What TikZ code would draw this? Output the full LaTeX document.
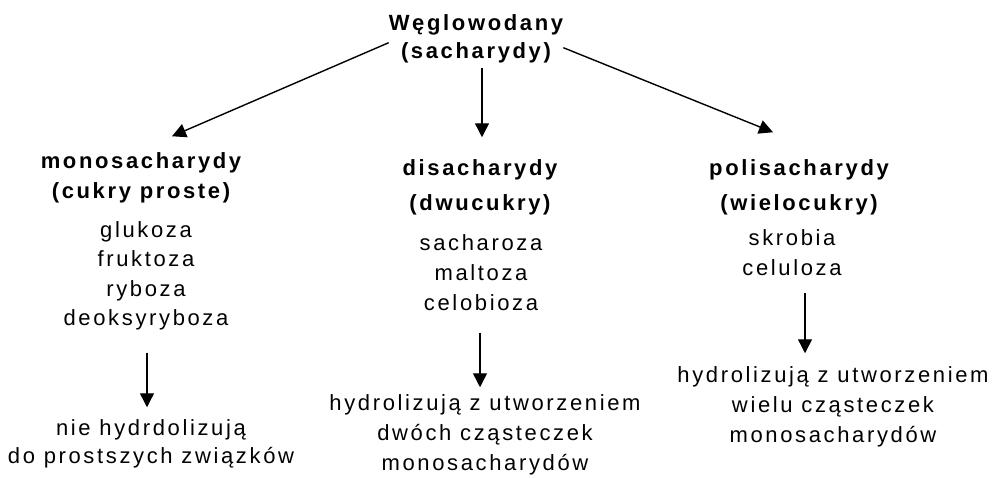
\documentclass[tikz,border=0pt]{standalone}
\usepackage{fontspec}
\usetikzlibrary{arrows.meta}
\newfontfamily\diafont[LetterSpace=12]{Liberation Sans}
\tikzset{
  txt/.style={font=\diafont\fontsize{22}{#1}\selectfont, align=center, anchor=north, inner sep=0pt},
  head/.style={txt=#1, font=\diafont\bfseries\fontsize{22}{#1}\selectfont},
  arr/.style={line width=1.4pt, -{Triangle[length=14pt,width=14pt]}}
}
\begin{document}
\begin{tikzpicture}[x=1pt,y=-1pt]
\useasboundingbox (0,0) rectangle (992,477);

% root
\node[head=28] (title) at (476,14.25) {Węglowodany\\(sacharydy)};

% monosaccharides
\node[head=30] (monohead) at (141,152.25) {monosacharydy\\(cukry proste)};
\node[txt=29.5] (monoitems) at (146,221.25) {glukoza\\fruktoza\\ryboza\\deoksyryboza};
\node[txt=28] (monores) at (151,419.25) {nie hydrdolizują\\do prostszych związków};

% disaccharides
\node[head=35] (dihead) at (480,159.25) {disacharydy\\(dwucukry)};
\node[txt=30] (diitems) at (481,234.25) {sacharoza\\maltoza\\celobioza};
\node[txt=30] (dires) at (485,394.25) {hydrolizują z utworzeniem\\dwóch cząsteczek\\monosacharydów};

% polysaccharides
\node[head=35] (polihead) at (799,159.25) {polisacharydy\\(wielocukry)};
\node[txt=30] (poliitems) at (792,229.25) {skrobia\\celuloza};
\node[txt=30] (polires) at (833,366.25) {hydrolizują z utworzeniem\\wielu cząsteczek\\monosacharydów};

% branches from the root
\draw[arr] ([yshift=-4pt]title.west) -- ([xshift=31pt,yshift=16pt]monohead.north);
\draw[arr] ([xshift=6pt,yshift=-5pt]title.south) -- ([xshift=2pt,yshift=22pt]dihead.north);
\draw[arr] ([yshift=-9pt]title.east) -- ([xshift=-26pt,yshift=27pt]polihead.north);

% hydrolysis arrows
\draw[arr] ([xshift=1pt,yshift=-22pt]monoitems.south) -- ([xshift=-4pt,yshift=12pt]monores.north);
\draw[arr] ([xshift=-1pt,yshift=-22pt]diitems.south) -- ([xshift=-5pt,yshift=7pt]dires.north);
\draw[arr] ([xshift=13pt,yshift=-17pt]poliitems.south) -- ([xshift=-28pt,yshift=13pt]polires.north);
\end{tikzpicture}
\end{document}
